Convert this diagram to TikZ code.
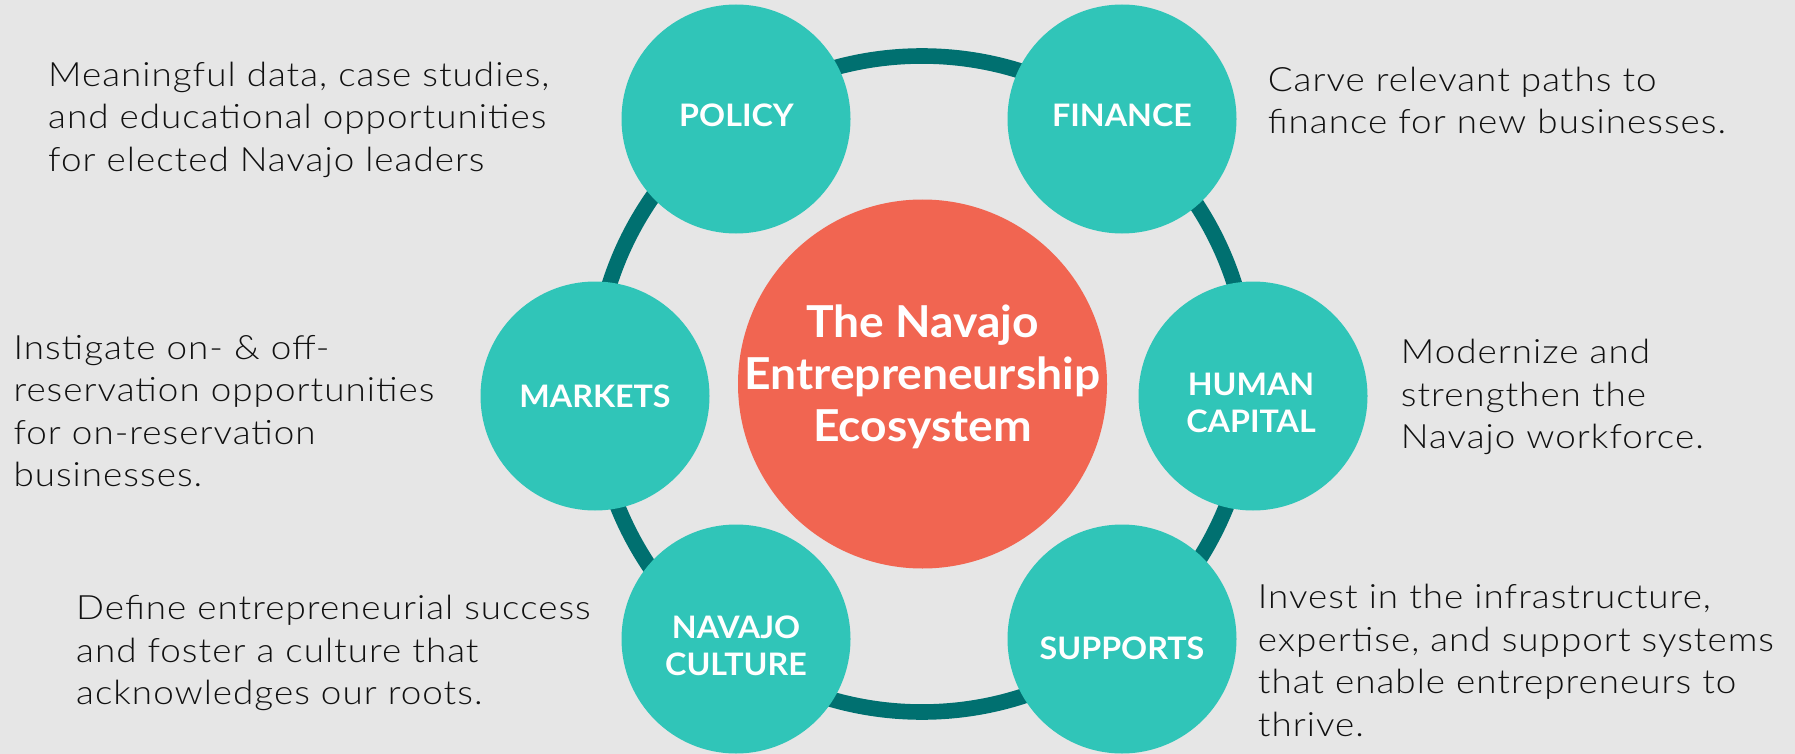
\documentclass[tikz,border=0pt]{standalone}
\usepackage{fontspec}
\setmainfont{Lato}
\newfontfamily\bodyfont{Lato Light}[FakeStretch=1.1, LetterSpace=3]
\newfontfamily\labelfont{Lato}[FakeStretch=1.04]
\newfontfamily\corefont{Lato}[FakeStretch=1.05]
\definecolor{bg}{HTML}{E6E6E6}
\definecolor{tealc}{HTML}{30C5B8}
\definecolor{ringc}{HTML}{007070}
\definecolor{coral}{HTML}{F16551}
\definecolor{ink}{HTML}{111111}
\tikzset{
  spoke/.style={circle, fill=tealc, minimum size=229pt, inner sep=0pt},
  spoketext/.style={inner sep=0pt, text=white, align=center,
    font=\labelfont\bfseries\fontsize{31}{37}\selectfont},
  core/.style={circle, fill=coral, minimum size=369pt, inner sep=0pt},
  coretext/.style={inner sep=0pt, text=white, align=center,
    font=\corefont\bfseries\fontsize{44}{51.7}\selectfont},
  desc/.style={anchor=north west, inner sep=0pt, align=left, text=ink,
    font=\bodyfont\fontsize{33.5}{42.5}\selectfont},
  ringline/.style={draw=ringc, line width=15.6pt}
}
\begin{document}
\begin{tikzpicture}[x=1pt,y=-1pt]
\useasboundingbox (0,0) rectangle (1795,754);
\fill[bg] (0,0) rectangle (1795,754);
\coordinate (ctr) at (922,384);
\draw[ringline] (ctr) circle (328pt);
\node[core] (core) at (922.5,384) {};
\node[coretext] (coreL) at (922.5,377) {The Navajo\\Entrepreneurship\\Ecosystem};
\node[spoke] (policy) at (736,119) {};
\node[spoke] (finance) at (1122,119) {};
\node[spoke] (markets) at (595,396) {};
\node[spoke] (human) at (1253,396) {};
\node[spoke] (culture) at (736,639) {};
\node[spoke] (supports) at (1122,639) {};
\node[spoketext] (policyL) at (736.5,115) {POLICY};
\node[spoketext] (financeL) at (1122,115.3) {FINANCE};
\node[spoketext] (marketsL) at (595,396) {MARKETS};
\node[spoketext] (humanL) at (1251,403.2) {HUMAN\\CAPITAL};
\node[spoketext] (cultureL) at (736,646) {NAVAJO\\CULTURE};
\node[spoketext] (supportsL) at (1122,648.7) {SUPPORTS};
\node[desc] (tpolicy) at (48,61.5) {Meaningful data, case studies,\\and educational opportunities\\for elected Navajo leaders};
\node[desc] (tfinance) at (1267.6,66.5) {Carve relevant paths to\\finance for new businesses.};
\node[desc] (tmarkets) at (13.3,335) {Instigate on- \& off-\\reservation opportunities\\for on-reservation\\businesses.};
\node[desc] (thuman) at (1400.7,339) {Modernize and\\strengthen the\\Navajo workforce.};
\node[desc] (tculture) at (76,595) {Define entrepreneurial success\\and foster a culture that\\acknowledges our roots.};
\node[desc] (tsupports) at (1257.7,584) {Invest in the infrastructure,\\expertise, and support systems\\that enable entrepreneurs to\\thrive.};
\end{tikzpicture}
\end{document}
